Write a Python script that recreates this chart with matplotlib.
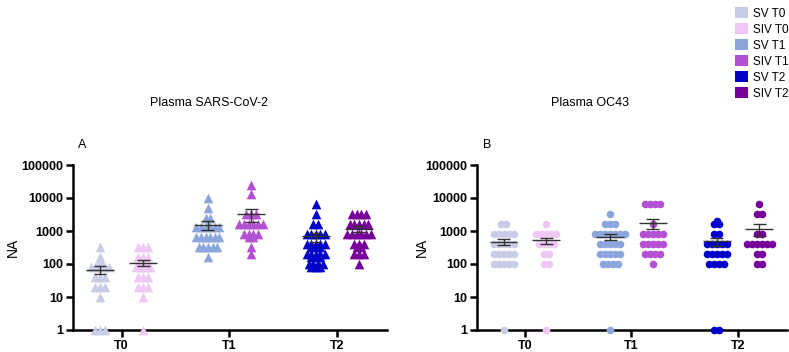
import numpy as np
import matplotlib
matplotlib.use("Agg")
import matplotlib.pyplot as plt
from matplotlib.patches import Patch
from matplotlib.ticker import NullLocator

plt.rcParams['font.family'] = ['Liberation Sans', 'DejaVu Sans']

# categorias
timepoints = ['T0', 'T1', 'T2']
legend_labels = ['SV T0', 'SIV T0', 'SV T1', 'SIV T1', 'SV T2', 'SIV T2']
sv_colors = ['#c8cce6', '#8ca5dc', '#0000c8']
siv_colors = ['#efc8f5', '#b450d2', '#78009a']
ytick_vals = [1, 10, 100, 1000, 10000, 100000]
ytick_labels = ['1', '10', '100', '1000', '10000', '100000']

# Plasma SARS-CoV-2 (A)
sars_sv_t0 = [320, 160, 100, 100, 80, 80, 80, 80, 80, 40, 40, 40, 20, 20, 20, 10, 1, 1, 1]
sars_siv_t0 = [320, 320, 320, 160, 160, 160, 100, 100, 100, 80, 80, 80, 80, 40, 40, 40, 20, 20, 20, 10, 1]
sars_sv_t1 = [10240, 5120, 2560, 2560, 1280, 1280, 1280, 1280, 1280, 1280,
              640, 640, 640, 640, 640, 640, 320, 320, 320, 320, 320, 160]
sars_siv_t1 = [25600, 12800, 3200, 3200, 3200, 1600, 1600, 1600, 1600, 1600, 1600,
               800, 800, 800, 800, 640, 640, 320, 200]
sars_sv_t2 = [6400, 3200, 1600, 1600, 800, 800, 800, 800, 800, 400, 400, 400, 400, 400,
              320, 320, 320, 200, 200, 200, 200, 200, 160, 160, 160, 100, 100, 100, 100, 80, 80, 80]
sars_siv_t2 = [3200, 3200, 3200, 3200, 1600, 1600, 1600, 1600, 1600, 800, 800, 800, 800, 800, 800,
               400, 400, 400, 320, 320, 200, 200, 200, 100]

# Plasma OC43 (B)
oc43_sv_t0 = [1600, 1600, 800, 800, 800, 800, 800, 400, 400, 400, 400, 400,
              200, 200, 200, 200, 200, 100, 100, 100, 100, 100, 1]
oc43_siv_t0 = [1600, 800, 800, 800, 800, 800, 400, 400, 400, 400, 200, 200, 100, 100, 1]
oc43_sv_t1 = [3200, 1600, 1600, 1600, 800, 800, 800, 800, 800, 800, 800, 400, 400, 400, 400, 400,
              200, 200, 200, 200, 200, 100, 100, 100, 100, 1]
oc43_siv_t1 = [6400, 6400, 6400, 6400, 1600, 800, 800, 800, 800, 800, 400, 400, 400, 400, 400,
               200, 200, 200, 200, 100]
oc43_sv_t2 = [2000, 1600, 1600, 800, 800, 400, 400, 400, 400, 400, 200, 200, 200, 200, 200,
              100, 100, 100, 100, 1, 1]
oc43_siv_t2 = [6400, 3200, 3200, 800, 800, 400, 400, 400, 400, 400, 400, 200, 200, 100, 100]

sars_sv = [sars_sv_t0, sars_sv_t1, sars_sv_t2]
sars_siv = [sars_siv_t0, sars_siv_t1, sars_siv_t2]
oc43_sv = [oc43_sv_t0, oc43_sv_t1, oc43_sv_t2]
oc43_siv = [oc43_siv_t0, oc43_siv_t1, oc43_siv_t2]


def swarm(ax, x0, vals, color, marker, size, step):
    vals = np.asarray(vals, dtype=float)
    for v in np.unique(vals):
        n = int((vals == v).sum())
        xs = x0 + (np.arange(n) - (n - 1) / 2) * step
        ax.scatter(xs, np.full(n, v), s=size, marker=marker, color=color,
                   linewidths=0, clip_on=False, zorder=3)
    # media y error estandar
    m = vals.mean()
    se = vals.std(ddof=1) / np.sqrt(len(vals))
    ax.hlines(m, x0 - 0.13, x0 + 0.13, color='#333333', lw=1, zorder=4)
    ax.vlines(x0, m - se, m + se, color='#333333', lw=1, zorder=4)
    ax.hlines([m - se, m + se], x0 - 0.06, x0 + 0.06, color='#333333', lw=1, zorder=4)


def style_axis(ax):
    ax.set_yscale('log')
    ax.set_ylim(1, 100000)
    ax.set_xlim(-0.45, 2.46)
    ax.set_yticks(ytick_vals)
    ax.set_yticklabels(ytick_labels)
    ax.yaxis.set_minor_locator(NullLocator())
    ax.set_xticks(range(3))
    ax.set_xticklabels(timepoints)
    for sp in ['top', 'right']:
        ax.spines[sp].set_visible(False)
    for sp in ['left', 'bottom']:
        ax.spines[sp].set_linewidth(1.8)
    ax.tick_params(width=1.8, length=5, labelsize=9, pad=2)
    for lab in ax.get_xticklabels() + ax.get_yticklabels():
        lab.set_fontweight('bold')
    ax.set_ylabel('NA', fontsize=10)


fig = plt.figure(figsize=(7.89, 3.52), dpi=100)
axA = fig.add_axes([73 / 789, 22 / 352, 314 / 789, 165 / 352])
axB = fig.add_axes([477 / 789, 22 / 352, 310 / 789, 165 / 352])

for i in range(3):
    swarm(axA, i - 0.2, sars_sv[i], sv_colors[i], '^', 48, 0.043)
    swarm(axA, i + 0.2, sars_siv[i], siv_colors[i], '^', 48, 0.043)
    swarm(axB, i - 0.2, oc43_sv[i], sv_colors[i], 'o', 30, 0.047)
    swarm(axB, i + 0.2, oc43_siv[i], siv_colors[i], 'o', 30, 0.047)

style_axis(axA)
style_axis(axB)
axA.yaxis.set_label_coords(-0.17, 0.5)
axB.yaxis.set_label_coords(-0.155, 0.5)

fig.text(209 / 789, 1 - 103 / 352, 'Plasma SARS-CoV-2', ha='center', va='center', fontsize=9)
fig.text(590 / 789, 1 - 103 / 352, 'Plasma OC43', ha='center', va='center', fontsize=9)
fig.text(82 / 789, 1 - 145 / 352, 'A', ha='center', va='center', fontsize=9)
fig.text(487 / 789, 1 - 145 / 352, 'B', ha='center', va='center', fontsize=9)

all_colors = [sv_colors[0], siv_colors[0], sv_colors[1], siv_colors[1], sv_colors[2], siv_colors[2]]
handles = [Patch(facecolor=c, edgecolor='none') for c in all_colors]
fig.legend(handles, legend_labels, loc='upper right', bbox_to_anchor=(1.008, 1.0),
           frameon=False, fontsize=8.5, handlelength=1.1, handleheight=1.1,
           handletextpad=0.35, labelspacing=0.28, borderaxespad=0.2)

fig.savefig('out.png', dpi=100)
